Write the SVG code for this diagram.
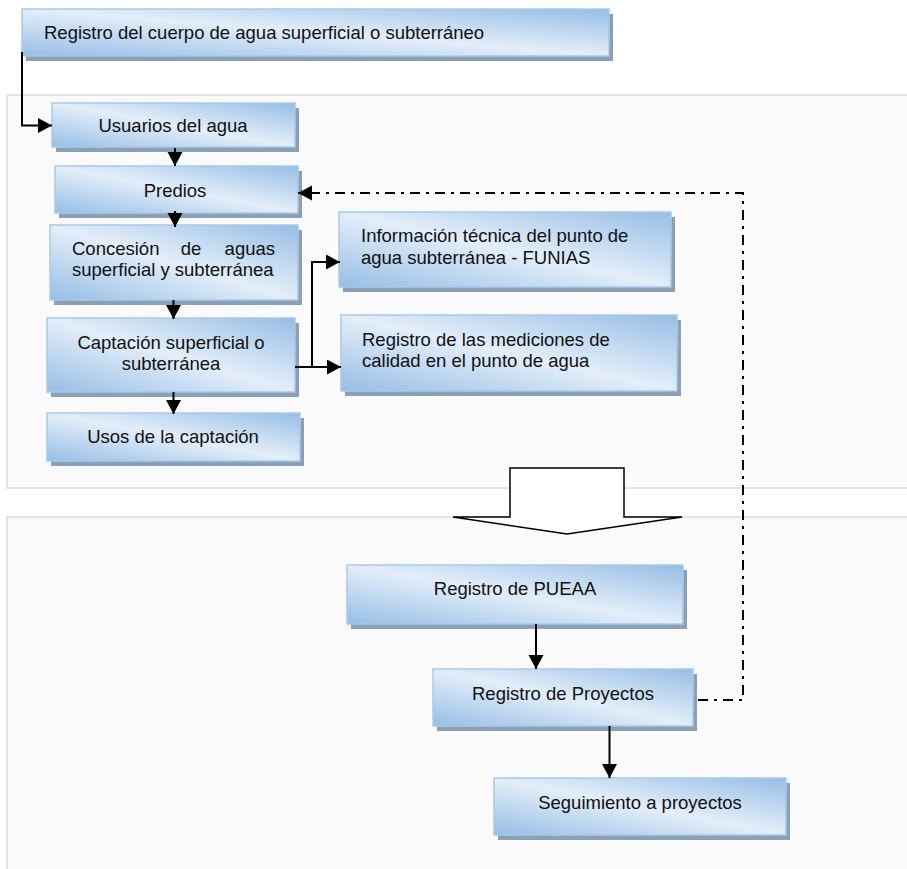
<svg xmlns="http://www.w3.org/2000/svg" width="907" height="869" viewBox="0 0 907 869">
<style>
.panel{fill:#fafafa;stroke:#e4e4e4;stroke-width:2}
.sh{fill:#8b9fb5}
.bx{fill:url(#g);stroke:#a9c9ea;stroke-width:1.5}
.t{font-family:"Liberation Sans",Arial,sans-serif;font-size:18.5px;fill:#111}
.m{text-anchor:middle}
.e{text-anchor:end}
.c{fill:none;stroke:#000;stroke-width:2}
.dd{fill:none;stroke:#000;stroke-width:2;stroke-dasharray:10 6 3 6}
</style>
<defs>
<linearGradient id="g" x1="1" y1="0" x2="0" y2="1">
<stop offset="0" stop-color="#96bde5"/>
<stop offset="0.5" stop-color="#e3eef9"/>
<stop offset="1" stop-color="#96bde5"/>
</linearGradient>
<marker id="ah" markerUnits="userSpaceOnUse" markerWidth="15" markerHeight="16" refX="14" refY="7.5" orient="auto">
<path d="M0,0 L14,7.5 L0,15 z" fill="#000"/>
</marker>
</defs>
<rect width="907" height="869" fill="#fff"/>
<g id="panels">
<rect class="panel" x="7" y="95" width="910" height="393"/>
<rect class="panel" x="7" y="517" width="910" height="370"/>
</g>
<g id="bigarrow">
<polygon points="510,468 624,468 624,517 682,517 567,534 453,517 510,517" fill="#fff" stroke="#000" stroke-width="1.5"/>
</g>
<g id="n1">
<rect class="sh" x="26" y="14" width="587" height="47"/>
<rect class="bx" x="22" y="9" width="587" height="47"/>
<text class="t" x="44" y="38.5">Registro del cuerpo de agua superficial o subterráneo</text>
</g>
<g id="n2">
<rect class="sh" x="56" y="108" width="243" height="44"/>
<rect class="bx" x="52" y="103" width="243" height="44"/>
<text class="t m" x="173" y="132">Usuarios del agua</text>
</g>
<g id="n3">
<rect class="sh" x="59" y="171" width="243" height="47"/>
<rect class="bx" x="55" y="166" width="243" height="47"/>
<text class="t m" x="175" y="196.5">Predios</text>
</g>
<g id="n4">
<rect class="sh" x="54" y="230" width="248" height="75"/>
<rect class="bx" x="50" y="225" width="248" height="75"/>
<text class="t" x="72" y="254.5">Concesión</text>
<text class="t m" x="191" y="254.5">de</text>
<text class="t e" x="275" y="254.5">aguas</text>
<text class="t" x="72" y="276">superficial y subterránea</text>
</g>
<g id="n5">
<rect class="sh" x="51" y="323" width="248" height="74"/>
<rect class="bx" x="47" y="318" width="248" height="74"/>
<text class="t m" x="171" y="348.5">Captación superficial o</text>
<text class="t m" x="171" y="369.5">subterránea</text>
</g>
<g id="n6">
<rect class="sh" x="51" y="418" width="253" height="48"/>
<rect class="bx" x="47" y="413" width="253" height="48"/>
<text class="t m" x="173" y="443">Usos de la captación</text>
</g>
<g id="n7">
<rect class="sh" x="343" y="217" width="332" height="75"/>
<rect class="bx" x="339" y="212" width="332" height="75"/>
<text class="t" x="361" y="242">Información técnica del punto de</text>
<text class="t" x="361" y="263.5">agua subterránea - FUNIAS</text>
</g>
<g id="n8">
<rect class="sh" x="345" y="320" width="336" height="76"/>
<rect class="bx" x="341" y="315" width="336" height="76"/>
<text class="t" x="362" y="345.5">Registro de las mediciones de</text>
<text class="t" x="362" y="366.5">calidad en el punto de agua</text>
</g>
<g id="n9">
<rect class="sh" x="351" y="570" width="336" height="59"/>
<rect class="bx" x="347" y="565" width="336" height="59"/>
<text class="t m" x="515" y="594.5">Registro de PUEAA</text>
</g>
<g id="n10">
<rect class="sh" x="437" y="674" width="260" height="57"/>
<rect class="bx" x="433" y="669" width="260" height="57"/>
<text class="t m" x="563" y="699.5">Registro de Proyectos</text>
</g>
<g id="n11">
<rect class="sh" x="498" y="783" width="292" height="57"/>
<rect class="bx" x="494" y="778" width="292" height="57"/>
<text class="t m" x="640" y="809">Seguimiento a proyectos</text>
</g>
<g id="connectors">
<path class="c" d="M22,52 V125.5 H52" marker-end="url(#ah)"/>
<path class="c" d="M175,148 V166" marker-end="url(#ah)"/>
<path class="c" d="M175,211 V227" marker-end="url(#ah)"/>
<path class="c" d="M173.5,300 V319" marker-end="url(#ah)"/>
<path class="c" d="M173.5,392 V414" marker-end="url(#ah)"/>
<path class="c" d="M295,367 H341" marker-end="url(#ah)"/>
<path class="c" d="M312,367 V262 H340" marker-end="url(#ah)"/>
<path class="c" d="M536,624 V669" marker-end="url(#ah)"/>
<path class="c" d="M609.5,726 V778" marker-end="url(#ah)"/>
<path class="dd" d="M698,700 H743 V193 H310" stroke-width="1.6"/>
<path class="c" d="M314,193 H298" marker-end="url(#ah)"/>
</g>
</svg>
